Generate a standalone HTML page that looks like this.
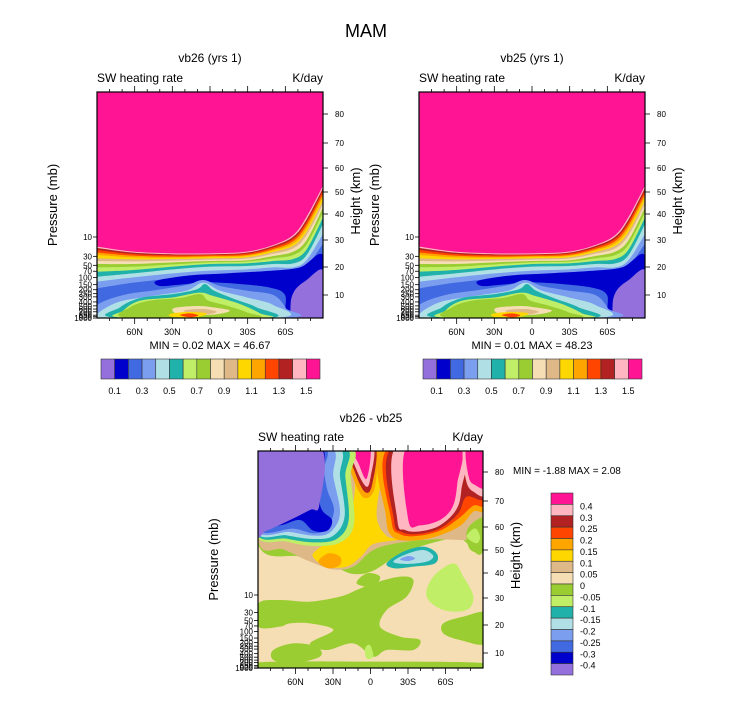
<!DOCTYPE html>
<html><head><meta charset="utf-8">
<style>
html,body{margin:0;padding:0;background:#fff;}
svg{display:block;font-family:"Liberation Sans",sans-serif;}
</style></head>
<body>
<svg id="chart" width="733" height="701" viewBox="0 0 733 701" xmlns="http://www.w3.org/2000/svg">
<rect width="733" height="701" fill="#fff"/>
<text x="366" y="37" font-size="18" text-anchor="middle">MAM</text>
<g id="root"></g>
</svg>
<script>
// ---- data arrays ----
const colors16 = ["#9370DB","#0000CD","#4169E1","#7B9EEF","#B0E0E6","#20B2AA","#C0EE66","#9ACD32","#F5DEB3","#DEB887","#FFD700","#FFA500","#FF4500","#B22222","#FFB6C1","#FF1493"];
const hrLabels = ["0.1","0.3","0.5","0.7","0.9","1.1","1.3","1.5"];
const diffLabels = ["0.4","0.3","0.25","0.2","0.15","0.1","0.05","0","-0.05","-0.1","-0.15","-0.2","-0.25","-0.3","-0.4"];
const pressureTicks = [10,30,50,70,100,150,200,250,300,400,500,600,700,850,925,1000];
const heightTicks = [10,20,30,40,50,60,70,80];
const latLabels = ["60N","30N","0","30S","60S"];
const latValues = [60,30,0,-30,-60];
const panelTitles = ["vb26 (yrs 1)","vb25 (yrs 1)"];
const panelMins = ["0.02","0.01"];
const panelMaxs = ["46.67","48.23"];

const NS="http://www.w3.org/2000/svg";
const root=document.getElementById('root');
function el(tag,attrs,parent,text){const e=document.createElementNS(NS,tag);for(const k in attrs)e.setAttribute(k,attrs[k]);if(text!==undefined)e.textContent=text;(parent||root).appendChild(e);return e;}
function smooth(pts,closed){
  const n=pts.length;let d="M"+pts[0][0]+","+pts[0][1];
  const get=i=>closed?pts[(i+n)%n]:pts[Math.max(0,Math.min(n-1,i))];
  const m=closed?n:n-1;
  for(let i=0;i<m;i++){const p0=get(i-1),p1=get(i),p2=get(i+1),p3=get(i+2);
    const c1=[p1[0]+(p2[0]-p0[0])/6,p1[1]+(p2[1]-p0[1])/6],c2=[p2[0]-(p3[0]-p1[0])/6,p2[1]-(p3[1]-p1[1])/6];
    d+=" C"+c1[0].toFixed(1)+","+c1[1].toFixed(1)+" "+c2[0].toFixed(1)+","+c2[1].toFixed(1)+" "+p2[0]+","+p2[1];}
  return d+(closed?"Z":"");
}
// ---- Top panels ----
const bandX=[172,280,400,510,620,700,760,800,850];
const bands=[
 [14,[560,575,580,580,575,555,525,470,375]],
 [13,[564,578,583,583,578,558,530,478,382]],
 [12,[570,582,586,585,581,562,536,486,390]],
 [11,[578,587,590,588,585,567,543,495,400]],
 [10,[585,592,593,591,588,571,550,505,410]],
 [9,[595,598,597,595,592,576,557,515,420]],
 [8,[603,604,602,599,596,581,565,525,430]],
 [7,[612,612,607,603,601,588,575,540,440]],
 [6,[622,620,613,607,605,595,585,553,455]],
 [5,[635,630,620,612,610,603,597,568,470]],
 [4,[650,640,628,620,618,612,610,585,490]],
 [3,[665,652,640,632,628,622,622,600,520]],
 [2,[685,668,655,645,640,635,637,618,550]]
];
const blobs1=[
 [1,[[350,662],[450,646],[560,640],[680,633],[780,622],[850,588],[850,773],[745,773],[735,705],[690,683],[600,672],[520,667],[480,668],[420,674],[360,678]]],
 [0,[[765,690],[800,660],[850,632],[850,755],[835,773],[762,773],[752,730]]],
 [3,[[172,735],[250,705],[350,690],[440,675],[490,660],[540,678],[620,692],[700,705],[738,745],[742,773],[172,773]]],
 [4,[[172,762],[200,742],[250,722],[350,706],[440,692],[490,668],[540,692],[620,712],[700,735],[715,773],[172,773]]],
 [5,[[228,773],[240,742],[300,714],[400,702],[470,688],[495,672],[522,692],[580,716],[650,742],[690,773]]],
 [6,[[250,752],[300,722],[400,712],[478,698],[520,708],[600,732],[660,760],[670,773],[250,773]]],
 [7,[[270,742],[330,722],[420,714],[480,702],[505,722],[560,737],[620,757],[640,773],[262,773]]],
 [8,[[400,745],[470,738],[520,742],[570,752],[520,764],[420,764]]],
 [9,[[430,752],[490,747],[530,756],[480,765]]],
 [10,[[390,762],[440,756],[500,760],[470,771],[400,771]]],
 [12,[[420,765],[450,760],[475,766],[450,772]]]
];
function logY(p,y10,k){return y10+k*Math.log(p/10);}
const heightY1={10:203,20:175,30:148,40:122,50:100,60:76,70:51,80:22};
function drawTop(pi,ox){
  const g=el('g',{transform:`translate(${ox},0)`,});
  const cid='clip'+pi;
  const cp=el('clipPath',{id:cid},g);el('rect',{x:97,y:92,width:226,height:226},cp);
  const pg=el('g',{'clip-path':`url(#${cid})`},g);
  const s=el('g',{transform:'translate(40,60) scale(0.33333)'},pg);
  el('rect',{x:172,y:97,width:678,height:676,fill:colors16[15]},s);
  bands.forEach(b=>{
    const pts=bandX.map((x,i)=>[x,b[1][i]]);
    let d=smooth(pts,false)+" L860,"+b[1][8]+" L860,790 L160,790 L160,"+b[1][0]+"Z";
    el('path',{d:d,fill:colors16[b[0]]},s);
  });
  blobs1.forEach(b=>el('path',{d:smooth(b[1],true),fill:colors16[b[0]]},s));
  drawAxes(g,97,92,226,226,237,17.6,heightY1);
  el('text',{x:210,y:62,'font-size':12,'text-anchor':'middle',},g,panelTitles[pi]);
  el('text',{x:97,y:82,'font-size':12,},g,"SW heating rate");
  el('text',{x:323,y:82,'font-size':12,'text-anchor':'end',},g,"K/day");
  el('text',{x:210,y:349,'font-size':11,'text-anchor':'middle','xml:space':'preserve'},g,"MIN =  "+panelMins[pi]+"  MAX =  "+panelMaxs[pi]);
  const cb=el('g',{},g);
  const bw=219/16;
  colors16.forEach((c,i)=>el('rect',{x:101+i*bw,y:359,width:bw,height:20,fill:c,stroke:'#333','stroke-width':0.6},cb));
  hrLabels.forEach((l,i)=>el('text',{x:101+(2*i+1)*bw,y:394,'font-size':9,'text-anchor':'middle'},cb,l));
}
function drawAxes(g,x0,y0,w,h,y10,k,hmap){
  el('rect',{x:x0,y:y0,width:w,height:h,fill:'none',stroke:'#000','stroke-width':1.2,},g);
  const ax=el('g',{},g);
  pressureTicks.forEach(p=>{const y=logY(p,y10,k);
    el('line',{x1:x0-4,x2:x0,y1:y,y2:y,stroke:'#000','stroke-width':0.8},ax);
    el('text',{x:x0-5,y:y+3,'font-size':8,'text-anchor':'end'},ax,p);});
  const hx=el('g',{},g);
  heightTicks.forEach(hh=>{const y=y0+hmap[hh];
    el('line',{x1:x0+w,x2:x0+w+5,y1:y,y2:y,stroke:'#000','stroke-width':0.8},hx);
    el('text',{x:x0+w+12,y:y+3,'font-size':8},hx,hh);});
  const xa=el('g',{},g);
  const lx=v=>x0+w*(90-v)/180;
  for(let v=80;v>=-80;v-=10){const x=lx(v);const major=v%30==0;
    el('line',{x1:x,x2:x,y1:y0+h,y2:y0+h+(major?6:3),stroke:'#000','stroke-width':0.8},xa);
    el('line',{x1:x,x2:x,y1:y0,y2:y0-(major?6:3),stroke:'#000','stroke-width':0.8},xa);}
  latValues.forEach((v,i)=>el('text',{x:lx(v),y:y0+h+17,'font-size':9,'text-anchor':'middle'},xa,latLabels[i]));
  el('text',{transform:`translate(${x0-40},${y0+h/2}) rotate(-90)`,'font-size':13,'text-anchor':'middle',},g,"Pressure (mb)");
  el('text',{transform:`translate(${x0+w+37},${y0+h/2-4}) rotate(-90)`,'font-size':13,'text-anchor':'middle',},g,"Height (km)");
}
drawTop(0,0);
drawTop(1,322);

// ---- Bottom difference panel ----
const layers3=[
 [7,[[175,405],[300,440],[400,470],[460,492],[520,482],[600,432],[700,398],[780,385],[850,420],[860,110],[165,110]]],
 [9,[[175,395],[250,418],[330,455],[400,478],[460,470],[520,420],[600,398],[700,388],[800,390],[860,380],[860,110],[165,110]]],
 [10,[[340,442],[380,470],[440,470],[485,438],[520,402],[600,388],[560,378],[530,320],[545,200],[560,110],[450,110],[465,210],[455,300],[420,368],[350,420]]],
 [11,[[355,455],[385,430],[420,440],[420,465],[385,475]]],
 [11,[[553,110],[558,320],[575,378],[620,392],[700,382],[780,348],[820,305],[860,290],[860,110]]],
 [12,[[568,110],[574,330],[600,372],[650,378],[720,362],[780,322],[820,287],[860,276],[860,110]]],
 [13,[[578,110],[582,330],[606,366],[655,372],[720,355],[775,310],[800,260],[860,262],[860,110]]],
 [14,[[588,110],[592,330],[615,360],[660,364],[720,346],[768,300],[784,240],[788,110]]],
 [15,[[620,110],[625,330],[660,346],[720,330],[758,290],[772,220],[778,110]]],
 [14,[[792,110],[798,210],[820,245],[860,250],[860,110]]],
 [15,[[800,110],[806,200],[825,225],[860,228],[860,110]]],
 [11,[[440,110],[458,200],[490,262],[522,242],[534,150],[538,110]]],
 [13,[[446,110],[466,190],[495,246],[516,226],[526,110]]],
 [14,[[451,110],[470,180],[499,230],[512,200],[520,110]]],
 [15,[[456,110],[476,162],[500,206],[510,110]]],
 [6,[[165,368],[260,395],[340,408],[420,398],[462,342],[452,200],[445,110],[165,110]]],
 [5,[[165,362],[260,386],[340,397],[410,387],[446,330],[436,200],[428,110],[165,110]]],
 [4,[[165,358],[260,376],[340,387],[400,377],[434,318],[420,200],[408,110],[165,110]]],
 [3,[[165,354],[270,366],[340,377],[390,367],[420,310],[400,200],[388,110],[165,110]]],
 [2,[[165,350],[280,356],[340,370],[380,357],[402,300],[382,240],[372,180],[368,110],[165,110]]],
 [1,[[165,346],[240,346],[300,330],[340,362],[382,362],[396,330],[366,300],[358,250],[362,110],[165,110]]],
 [0,[[165,367],[200,362],[260,335],[330,300],[358,285],[360,110],[165,110]]],
 [6,[[700,500],[760,460],[790,500],[820,560],[800,600],[730,600],[680,560]]],
 [5,[[560,460],[610,425],[670,410],[710,430],[705,460],[640,470],[585,475]]],
 [4,[[580,455],[620,432],[670,420],[700,438],[680,455],[620,462]]],
 [3,[[600,448],[625,438],[645,445],[625,453]]],
 [7,[[175,580],[240,570],[330,575],[420,560],[470,540],[520,520],[600,500],[640,510],[620,560],[560,600],[540,650],[600,680],[660,690],[640,720],[560,720],[520,740],[460,700],[380,720],[330,700],[400,660],[330,640],[270,640],[240,650],[175,650]]],
 [7,[[730,640],[790,620],[860,610],[860,700],[780,690],[730,670]]],
 [7,[[220,720],[280,700],[350,710],[360,740],[280,760],[220,750]]],
 [7,[[800,365],[830,330],[860,330],[860,420],[812,420]]],
 [7,[[470,520],[500,490],[540,500],[520,530]]],
 [6,[[800,380],[825,355],[840,380],[830,400]]],
 [6,[[495,715],[510,705],[520,740],[500,745]]],
 [7,[[165,758],[500,755],[860,760],[860,790],[165,790]]]
];
(function(){
  const g=el('g',{});
  const cp=el('clipPath',{id:'clip3'},g);el('rect',{x:258,y:451,width:225,height:217},cp);
  const pg=el('g',{'clip-path':'url(#clip3)'},g);
  const s=el('g',{transform:'translate(200,410) scale(0.33333)'},pg);
  el('rect',{x:175,y:123,width:675,height:650,fill:colors16[8]},s);
  layers3.forEach(b=>el('path',{d:smooth(b[1],true),fill:colors16[b[0]]},s));
  const hmap={10:202,20:174,30:147,40:122,50:99,60:76,70:50,80:21};
  drawAxes(g,258,451,225,217,595,15.9,hmap);
  el('text',{x:371,y:422,'font-size':12,'text-anchor':'middle',},g,"vb26 - vb25");
  el('text',{x:258,y:441,'font-size':12,},g,"SW heating rate");
  el('text',{x:483,y:441,'font-size':12,'text-anchor':'end',},g,"K/day");
  el('text',{x:513,y:474,'font-size':10,'xml:space':'preserve'},g,"MIN =  -1.88  MAX =  2.08");
  const cb=el('g',{},g);
  const bh=182/16;
  colors16.slice().reverse().forEach((c,i)=>el('rect',{x:551,y:493+i*bh,width:22,height:bh,fill:c,stroke:'#333','stroke-width':0.6},cb));
  diffLabels.forEach((l,i)=>el('text',{x:580,y:493+(i+1)*bh+5,'font-size':9},cb,l));
})();
</script>
</body></html>
